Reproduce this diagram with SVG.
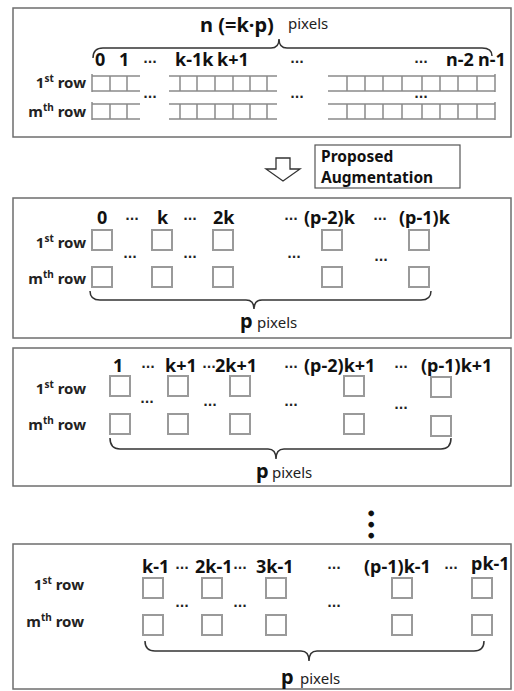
<svg xmlns="http://www.w3.org/2000/svg" width="514" height="691" viewBox="0 0 514 691">
<style>
.panel{fill:#fff;stroke:#6e6e6e;stroke-width:1.5}
.lb{font-family:"Noto Sans","Open Sans",sans-serif;font-weight:bold;font-size:18px;fill:#111}
.rw{font-family:"Noto Sans","Open Sans",sans-serif;font-weight:bold;font-size:15px;fill:#222}
.sup{font-size:10px}
.dt{font-family:"DejaVu Sans",sans-serif;font-weight:bold;font-size:12px;fill:#222;text-anchor:middle}
.px{font-family:"Noto Sans","Open Sans",sans-serif;font-size:15px;fill:#222}
.pp{font-family:"Noto Sans","Open Sans",sans-serif;font-weight:bold;font-size:20px;fill:#111}
.sq{fill:none;stroke:#9a9a9a;stroke-width:2}
.st{fill:none;stroke:#8a8a8a;stroke-width:1.5}
.br{fill:none;stroke:#333;stroke-width:1.5}
</style>

<g id="panel-original">
  <rect class="panel" x="13" y="8" width="498" height="129"/>
  <text class="lb" x="200" y="32" style="font-size:20px">n (=k·p)</text>
  <text class="px" x="288" y="29">pixels</text>
  <path class="br" d="M93,58 Q93,48 103,48 L271,48 Q279,48 279,39 Q279,48 287,48 L482,48 Q492,48 492,56"/>
  <text class="lb" x="95" y="66">0</text>
  <text class="lb" x="119" y="66">1</text>
  <text class="dt" x="150" y="66">···</text>
  <text class="lb" x="175" y="66">k-1k</text>
  <text class="lb" x="217" y="66">k+1</text>
  <text class="dt" x="297" y="66">···</text>
  <text class="dt" x="421" y="66">···</text>
  <text class="lb" x="446" y="66">n-2</text>
  <text class="lb" x="478" y="66">n-1</text>
  <text class="rw" x="86" y="88" text-anchor="end">1<tspan class="sup" dy="-6">st</tspan><tspan dy="6"> row</tspan></text>
  <text class="rw" x="86" y="117" text-anchor="end">m<tspan class="sup" dy="-6">th</tspan><tspan dy="6"> row</tspan></text>
  <g id="strips-row1">
    <path class="st" d="M92,76 L140,76 M92,91 L140,91 M92,74 L92,92 M110,76 L110,91 M127,76 L127,91"/>
    <path class="st" d="M169,76 L277,76 M169,91 L277,91 M180,76 L180,91 M197,76 L197,91 M215,76 L215,91 M233,76 L233,91 M250,76 L250,91 M267,76 L267,91"/>
    <path class="st" d="M328,76 L495,76 M328,91 L495,91 M347,76 L347,91 M365,76 L365,91 M383,76 L383,91 M402,76 L402,91 M422,76 L422,91 M440,76 L440,91 M458,76 L458,91 M477,76 L477,91 M495,74 L495,92"/>
  </g>
  <g id="strips-rowm">
    <path class="st" d="M92,104 L140,104 M92,119 L140,119 M92,102 L92,120 M110,104 L110,119 M127,104 L127,119"/>
    <path class="st" d="M169,104 L277,104 M169,119 L277,119 M180,104 L180,119 M197,104 L197,119 M215,104 L215,119 M233,104 L233,119 M250,104 L250,119 M267,104 L267,119"/>
    <path class="st" d="M328,104 L495,104 M328,119 L495,119 M347,104 L347,119 M365,104 L365,119 M383,104 L383,119 M402,104 L402,119 M422,104 L422,119 M440,104 L440,119 M458,104 L458,119 M477,104 L477,119 M495,102 L495,120"/>
  </g>
  <text class="dt" x="150" y="101">···</text>
  <text class="dt" x="297" y="101">···</text>
  <text class="dt" x="421" y="101">···</text>
</g>

<g id="connectors">
  <path d="M276,158 L290,158 L290,169 L300,169 L283,181 L266,169 L276,169 Z" fill="#fff" stroke="#333" stroke-width="1.3"/>
</g>

<g id="label-proposed">
  <rect x="315" y="145" width="145" height="43" fill="#fff" stroke="#555" stroke-width="1.2"/>
  <text class="lb" x="321" y="162" style="font-size:15.5px">Proposed</text>
  <text class="lb" x="321" y="183" style="font-size:15.5px">Augmentation</text>
</g>

<g id="panel-offset0">
  <rect class="panel" x="13" y="198" width="498" height="140"/>
  <text class="lb" x="97" y="224">0</text>
  <text class="dt" x="132" y="223">···</text>
  <text class="lb" x="157" y="224">k</text>
  <text class="dt" x="190" y="223">···</text>
  <text class="lb" x="213" y="224">2k</text>
  <text class="dt" x="291" y="223">···</text>
  <text class="lb" x="304" y="224">(p-2)k</text>
  <text class="dt" x="380" y="223">···</text>
  <text class="lb" x="399" y="224">(p-1)k</text>
  <text class="rw" x="86" y="248" text-anchor="end">1<tspan class="sup" dy="-6">st</tspan><tspan dy="6"> row</tspan></text>
  <text class="rw" x="86" y="284" text-anchor="end">m<tspan class="sup" dy="-6">th</tspan><tspan dy="6"> row</tspan></text>
  <rect class="sq" x="92" y="230" width="20" height="20"/>
  <rect class="sq" x="152" y="230" width="20" height="20"/>
  <rect class="sq" x="213" y="230" width="20" height="20"/>
  <rect class="sq" x="322" y="230" width="20" height="20"/>
  <rect class="sq" x="409" y="230" width="20" height="20"/>
  <rect class="sq" x="92" y="267" width="20" height="20"/>
  <rect class="sq" x="152" y="267" width="20" height="20"/>
  <rect class="sq" x="213" y="267" width="20" height="20"/>
  <rect class="sq" x="322" y="267" width="20" height="20"/>
  <rect class="sq" x="409" y="267" width="20" height="20"/>
  <text class="dt" x="130" y="261">···</text>
  <text class="dt" x="190" y="261">···</text>
  <text class="dt" x="294" y="261">···</text>
  <text class="dt" x="381" y="264">···</text>
  <path class="br" d="M90,291 Q90,300 100,300 L246,300 Q254,300 254,309 Q254,300 262,300 L421,300 Q431,300 431,291"/>
  <text class="pp" x="240" y="328">p</text>
  <text class="px" x="257" y="328">pixels</text>
</g>

<g id="panel-offset1">
  <rect class="panel" x="13" y="348" width="498" height="138"/>
  <text class="lb" x="113" y="372">1</text>
  <text class="dt" x="148" y="371">···</text>
  <text class="lb" x="165" y="372">k+1</text>
  <text class="dt" x="209" y="371">···</text>
  <text class="lb" x="215" y="372">2k+1</text>
  <text class="dt" x="291" y="371">···</text>
  <text class="lb" x="304" y="372">(p-2)k+1</text>
  <text class="dt" x="401" y="371">···</text>
  <text class="lb" x="421" y="372">(p-1)k+1</text>
  <text class="rw" x="86" y="394" text-anchor="end">1<tspan class="sup" dy="-6">st</tspan><tspan dy="6"> row</tspan></text>
  <text class="rw" x="86" y="430" text-anchor="end">m<tspan class="sup" dy="-6">th</tspan><tspan dy="6"> row</tspan></text>
  <rect class="sq" x="110" y="376" width="20" height="20"/>
  <rect class="sq" x="168" y="376" width="20" height="20"/>
  <rect class="sq" x="230" y="376" width="20" height="20"/>
  <rect class="sq" x="344" y="376" width="20" height="20"/>
  <rect class="sq" x="431" y="377" width="20" height="20"/>
  <rect class="sq" x="110" y="414" width="20" height="20"/>
  <rect class="sq" x="168" y="414" width="20" height="20"/>
  <rect class="sq" x="230" y="414" width="20" height="20"/>
  <rect class="sq" x="344" y="414" width="20" height="20"/>
  <rect class="sq" x="431" y="416" width="20" height="20"/>
  <text class="dt" x="147" y="406">···</text>
  <text class="dt" x="210" y="409">···</text>
  <text class="dt" x="291" y="409">···</text>
  <text class="dt" x="401" y="412">···</text>
  <path class="br" d="M110,438 Q110,449 120,449 L268,449 Q276,449 276,459 Q276,449 284,449 L441,449 Q451,449 451,438"/>
  <text class="pp" x="256" y="478">p</text>
  <text class="px" x="272" y="478">pixels</text>
</g>

<g id="vdots">
  <text transform="translate(370,525) rotate(90)" x="0" y="5" text-anchor="middle" letter-spacing="1" style="font-family:'DejaVu Sans',sans-serif;font-weight:bold;font-size:16px;fill:#111">•••</text>
</g>

<g id="panel-offsetk1">
  <rect class="panel" x="13" y="544" width="498" height="145"/>
  <text class="lb" x="142" y="573">k-1</text>
  <text class="dt" x="182" y="572">···</text>
  <text class="lb" x="195" y="573">2k-1</text>
  <text class="dt" x="240" y="572">···</text>
  <text class="lb" x="256" y="573">3k-1</text>
  <text class="dt" x="334" y="572">···</text>
  <text class="lb" x="364" y="573">(p-1)k-1</text>
  <text class="dt" x="451" y="572">···</text>
  <text class="lb" x="471" y="570">pk-1</text>
  <text class="rw" x="84" y="590" text-anchor="end">1<tspan class="sup" dy="-6">st</tspan><tspan dy="6"> row</tspan></text>
  <text class="rw" x="84" y="627" text-anchor="end">m<tspan class="sup" dy="-6">th</tspan><tspan dy="6"> row</tspan></text>
  <rect class="sq" x="143" y="578" width="20" height="20"/>
  <rect class="sq" x="202" y="578" width="20" height="20"/>
  <rect class="sq" x="266" y="578" width="20" height="20"/>
  <rect class="sq" x="392" y="578" width="20" height="20"/>
  <rect class="sq" x="472" y="578" width="20" height="20"/>
  <rect class="sq" x="143" y="615" width="20" height="20"/>
  <rect class="sq" x="202" y="615" width="20" height="20"/>
  <rect class="sq" x="266" y="615" width="20" height="20"/>
  <rect class="sq" x="392" y="615" width="20" height="20"/>
  <rect class="sq" x="472" y="615" width="20" height="20"/>
  <text class="dt" x="182" y="610">···</text>
  <text class="dt" x="240" y="610">···</text>
  <text class="dt" x="334" y="610">···</text>
  <path class="br" d="M145,641 Q145,651 155,651 L301,651 Q309,651 309,661 Q309,651 317,651 L474,651 Q484,651 484,641"/>
  <text class="pp" x="281" y="684">p</text>
  <text class="px" x="300" y="684">pixels</text>
</g>
</svg>
